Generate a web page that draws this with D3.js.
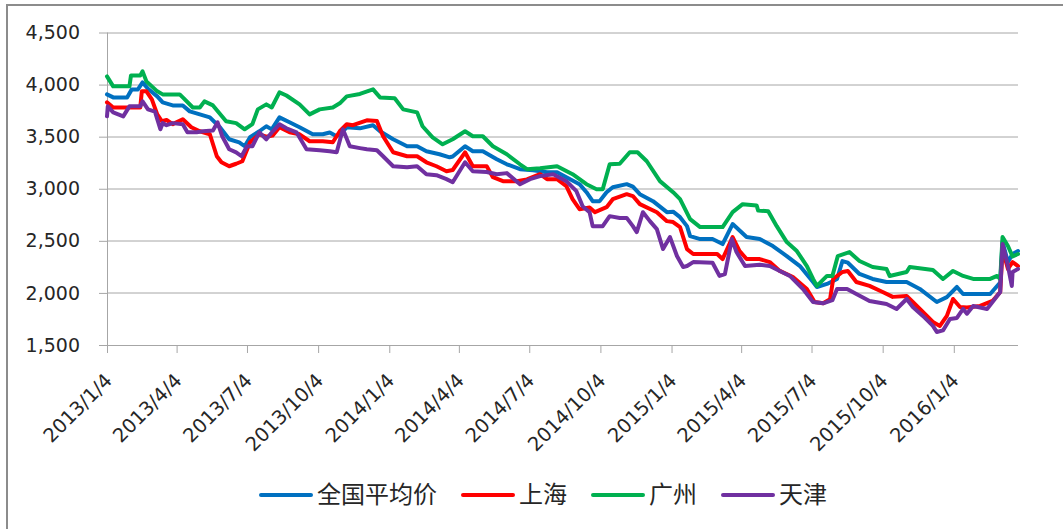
<!DOCTYPE html>
<html>
<head>
<meta charset="utf-8">
<script src="https://cdn.jsdelivr.net/npm/d3@7"></script>
<style>
  body { margin: 0; background: #fff; }
  svg { display: block; }
</style>
</head>
<body>
<script>
// legend names and colours, drawn in this order (last one on top)
var seriesNames = ["全国平均价", "上海", "广州", "天津"];
var seriesColors = ["#0070C0", "#FF0000", "#00B050", "#7030A0"];

// x axis tick labels (quarterly)
var xTickLabels = ["2013/1/4", "2013/4/4", "2013/7/4", "2013/10/4", "2014/1/4", "2014/4/4",
  "2014/7/4", "2014/10/4", "2015/1/4", "2015/4/4", "2015/7/4", "2015/10/4", "2016/1/4"];
var yTicks = [1500, 2000, 2500, 3000, 3500, 4000, 4500];

// 全国平均价
var national = [
  ["2013-01-04", 3906], ["2013-01-12", 3877], ["2013-01-30", 3877], ["2013-02-05", 3954], ["2013-02-13", 3954],
  ["2013-02-19", 4021], ["2013-02-26", 3960], ["2013-03-10", 3887], ["2013-03-17", 3829], ["2013-03-30", 3800],
  ["2013-04-12", 3800], ["2013-04-21", 3743], ["2013-05-04", 3714], ["2013-05-17", 3685], ["2013-05-30", 3590],
  ["2013-06-11", 3475], ["2013-06-24", 3446], ["2013-07-01", 3408], ["2013-07-08", 3494], ["2013-07-20", 3552],
  ["2013-07-29", 3600], ["2013-08-05", 3570], ["2013-08-15", 3685], ["2013-08-28", 3638], ["2013-09-10", 3590],
  ["2013-09-27", 3523], ["2013-10-10", 3523], ["2013-10-19", 3540], ["2013-10-28", 3504], ["2013-11-05", 3552],
  ["2013-11-10", 3590], ["2013-11-27", 3580], ["2013-12-14", 3610], ["2013-12-23", 3552], ["2014-01-09", 3475],
  ["2014-01-27", 3408], ["2014-02-09", 3408], ["2014-02-21", 3360], ["2014-03-10", 3331], ["2014-03-23", 3302],
  ["2014-03-27", 3310], ["2014-04-12", 3408], ["2014-04-22", 3360], ["2014-05-05", 3360], ["2014-05-23", 3283],
  ["2014-06-05", 3235], ["2014-06-22", 3188], ["2014-07-09", 3178], ["2014-07-27", 3159], ["2014-08-09", 3159],
  ["2014-08-21", 3111], ["2014-09-07", 3044], ["2014-09-16", 2967], ["2014-09-24", 2881], ["2014-10-03", 2881],
  ["2014-10-12", 2967], ["2014-10-20", 3015], ["2014-11-07", 3044], ["2014-11-15", 3020], ["2014-11-24", 2948],
  ["2014-12-11", 2881], ["2014-12-29", 2775], ["2015-01-06", 2780], ["2015-01-15", 2727], ["2015-01-24", 2641],
  ["2015-01-28", 2545], ["2015-02-10", 2517], ["2015-02-26", 2517], ["2015-03-11", 2469], ["2015-03-24", 2661],
  ["2015-04-11", 2536], ["2015-04-28", 2517], ["2015-05-15", 2450], ["2015-06-02", 2354], ["2015-06-19", 2258],
  ["2015-07-06", 2105], ["2015-07-11", 2057], ["2015-07-24", 2086], ["2015-08-06", 2134], ["2015-08-13", 2306],
  ["2015-08-20", 2290], ["2015-09-04", 2182], ["2015-09-21", 2134], ["2015-10-09", 2105], ["2015-11-04", 2105],
  ["2015-11-21", 2038], ["2015-12-13", 1913], ["2015-12-26", 1960], ["2016-01-08", 2057], ["2016-01-16", 1990],
  ["2016-02-20", 1990], ["2016-02-29", 2067], ["2016-03-04", 2100], ["2016-03-07", 2488], ["2016-03-14", 2296],
  ["2016-03-20", 2374], ["2016-03-27", 2402]
];

// 上海
var shanghai = [
  ["2013-01-04", 3829], ["2013-01-12", 3780], ["2013-02-16", 3780], ["2013-02-18", 3935], ["2013-02-24", 3935],
  ["2013-03-03", 3858], ["2013-03-10", 3714], ["2013-03-16", 3648], ["2013-03-22", 3660], ["2013-03-30", 3620],
  ["2013-04-12", 3667], ["2013-04-23", 3590], ["2013-05-04", 3552], ["2013-05-17", 3523], ["2013-05-26", 3312],
  ["2013-06-01", 3254], ["2013-06-11", 3216], ["2013-06-20", 3240], ["2013-06-28", 3264], ["2013-07-08", 3446],
  ["2013-07-20", 3523], ["2013-07-29", 3500], ["2013-08-06", 3510], ["2013-08-15", 3590], ["2013-08-28", 3542],
  ["2013-09-10", 3523], ["2013-09-23", 3456], ["2013-10-10", 3456], ["2013-10-23", 3446], ["2013-11-01", 3552],
  ["2013-11-10", 3619], ["2013-11-18", 3610], ["2013-12-06", 3657], ["2013-12-19", 3650], ["2013-12-27", 3504],
  ["2014-01-09", 3350], ["2014-01-27", 3312], ["2014-02-09", 3312], ["2014-02-21", 3254], ["2014-03-06", 3216],
  ["2014-03-19", 3168], ["2014-03-27", 3180], ["2014-04-12", 3350], ["2014-04-22", 3216], ["2014-05-10", 3216],
  ["2014-05-18", 3111], ["2014-05-31", 3073], ["2014-06-18", 3073], ["2014-07-01", 3090], ["2014-07-18", 3140],
  ["2014-07-27", 3092], ["2014-08-09", 3092], ["2014-08-21", 3025], ["2014-08-29", 2900], ["2014-09-07", 2804],
  ["2014-09-20", 2820], ["2014-09-27", 2775], ["2014-10-12", 2823], ["2014-10-20", 2900], ["2014-11-07", 2948],
  ["2014-11-15", 2930], ["2014-11-24", 2852], ["2014-12-16", 2775], ["2014-12-29", 2689], ["2015-01-06", 2680],
  ["2015-01-15", 2632], ["2015-01-24", 2421], ["2015-02-01", 2374], ["2015-03-04", 2374], ["2015-03-11", 2325],
  ["2015-03-24", 2536], ["2015-04-02", 2402], ["2015-04-11", 2325], ["2015-04-28", 2325], ["2015-05-11", 2296],
  ["2015-05-24", 2211], ["2015-06-10", 2153], ["2015-06-28", 2038], ["2015-07-08", 1913], ["2015-07-19", 1900],
  ["2015-07-28", 1940], ["2015-08-01", 2134], ["2015-08-13", 2201], ["2015-08-20", 2211], ["2015-08-31", 2105],
  ["2015-09-17", 2067], ["2015-10-04", 2009], ["2015-10-17", 1962], ["2015-11-04", 1971], ["2015-11-12", 1913],
  ["2015-11-25", 1817], ["2015-12-08", 1721], ["2015-12-17", 1683], ["2015-12-26", 1779], ["2016-01-03", 1942],
  ["2016-01-12", 1865], ["2016-01-21", 1860], ["2016-02-07", 1875], ["2016-02-23", 1923], ["2016-03-04", 2009],
  ["2016-03-07", 2421], ["2016-03-14", 2230], ["2016-03-20", 2296], ["2016-03-27", 2258]
];

// 广州
var guangzhou = [
  ["2013-01-04", 4079], ["2013-01-12", 3983], ["2013-02-02", 3983], ["2013-02-04", 4088], ["2013-02-16", 4088],
  ["2013-02-19", 4127], ["2013-02-24", 4031], ["2013-03-10", 3935], ["2013-03-17", 3906], ["2013-04-08", 3906],
  ["2013-04-12", 3877], ["2013-04-25", 3780], ["2013-05-04", 3780], ["2013-05-10", 3839], ["2013-05-21", 3800],
  ["2013-06-07", 3648], ["2013-06-20", 3630], ["2013-07-01", 3571], ["2013-07-11", 3620], ["2013-07-18", 3762],
  ["2013-07-29", 3810], ["2013-08-05", 3780], ["2013-08-15", 3925], ["2013-08-24", 3895], ["2013-09-10", 3810],
  ["2013-09-23", 3714], ["2013-10-06", 3762], ["2013-10-23", 3780], ["2013-11-01", 3820], ["2013-11-10", 3887],
  ["2013-11-27", 3910], ["2013-12-14", 3954], ["2013-12-23", 3877], ["2014-01-11", 3868], ["2014-01-22", 3762],
  ["2014-02-09", 3733], ["2014-02-16", 3600], ["2014-03-01", 3494], ["2014-03-14", 3427], ["2014-03-27", 3475],
  ["2014-04-12", 3552], ["2014-04-22", 3504], ["2014-05-05", 3504], ["2014-05-18", 3408], ["2014-06-05", 3331],
  ["2014-06-22", 3235], ["2014-07-01", 3188], ["2014-07-18", 3197], ["2014-08-09", 3216], ["2014-08-29", 3140],
  ["2014-09-16", 3044], ["2014-09-29", 2996], ["2014-10-07", 2996], ["2014-10-16", 3235], ["2014-10-29", 3240],
  ["2014-11-11", 3350], ["2014-11-21", 3350], ["2014-12-03", 3264], ["2014-12-20", 3073], ["2015-01-06", 2967],
  ["2015-01-15", 2900], ["2015-01-28", 2708], ["2015-02-10", 2632], ["2015-03-11", 2632], ["2015-03-24", 2775],
  ["2015-04-06", 2852], ["2015-04-24", 2840], ["2015-04-26", 2790], ["2015-05-09", 2785], ["2015-05-20", 2641],
  ["2015-06-02", 2488], ["2015-06-15", 2402], ["2015-06-28", 2258], ["2015-07-06", 2134], ["2015-07-11", 2067],
  ["2015-07-24", 2163], ["2015-07-31", 2163], ["2015-08-07", 2354], ["2015-08-22", 2392], ["2015-09-04", 2306],
  ["2015-09-21", 2249], ["2015-10-09", 2230], ["2015-10-13", 2163], ["2015-11-04", 2201], ["2015-11-08", 2249],
  ["2015-12-08", 2220], ["2015-12-21", 2134], ["2016-01-03", 2211], ["2016-01-16", 2163], ["2016-01-29", 2134],
  ["2016-02-20", 2134], ["2016-02-29", 2163], ["2016-03-04", 2134], ["2016-03-07", 2536], ["2016-03-14", 2450],
  ["2016-03-20", 2350], ["2016-03-27", 2374]
];

// 天津
var tianjin = [
  ["2013-01-04", 3695], ["2013-01-05", 3791], ["2013-01-12", 3733], ["2013-01-25", 3695], ["2013-02-02", 3791],
  ["2013-02-16", 3791], ["2013-02-19", 3839], ["2013-02-26", 3762], ["2013-03-07", 3740], ["2013-03-14", 3571],
  ["2013-03-17", 3630], ["2013-03-22", 3610], ["2013-03-30", 3630], ["2013-04-12", 3620], ["2013-04-18", 3542],
  ["2013-04-30", 3542], ["2013-05-08", 3552], ["2013-05-21", 3560], ["2013-05-27", 3638], ["2013-06-02", 3504],
  ["2013-06-11", 3379], ["2013-06-20", 3350], ["2013-06-27", 3312], ["2013-07-04", 3408], ["2013-07-11", 3408],
  ["2013-07-20", 3542], ["2013-07-29", 3475], ["2013-08-05", 3540], ["2013-08-15", 3619], ["2013-08-24", 3580],
  ["2013-09-06", 3542], ["2013-09-19", 3379], ["2013-10-06", 3370], ["2013-10-19", 3360], ["2013-10-28", 3350],
  ["2013-11-05", 3571], ["2013-11-14", 3408], ["2013-11-27", 3390], ["2013-12-06", 3379], ["2013-12-19", 3370],
  ["2013-12-27", 3312], ["2014-01-09", 3216], ["2014-01-27", 3206], ["2014-02-09", 3216], ["2014-02-21", 3140],
  ["2014-03-06", 3130], ["2014-03-19", 3092], ["2014-03-27", 3063], ["2014-04-12", 3254], ["2014-04-22", 3168],
  ["2014-05-10", 3160], ["2014-05-23", 3140], ["2014-06-05", 3150], ["2014-06-22", 3044], ["2014-07-05", 3092],
  ["2014-07-18", 3121], ["2014-08-04", 3140], ["2014-08-21", 3073], ["2014-09-03", 2977], ["2014-09-11", 2833],
  ["2014-09-20", 2775], ["2014-09-24", 2641], ["2014-10-07", 2641], ["2014-10-16", 2737], ["2014-10-29", 2720],
  ["2014-11-07", 2720], ["2014-11-15", 2641], ["2014-11-20", 2584], ["2014-11-28", 2775], ["2014-12-07", 2689],
  ["2014-12-16", 2613], ["2014-12-24", 2421], ["2015-01-02", 2536], ["2015-01-11", 2354], ["2015-01-19", 2249],
  ["2015-01-24", 2258], ["2015-02-01", 2296], ["2015-02-26", 2290], ["2015-03-07", 2163], ["2015-03-14", 2180],
  ["2015-03-23", 2517], ["2015-03-29", 2392], ["2015-04-09", 2258], ["2015-04-28", 2270], ["2015-05-11", 2258],
  ["2015-05-24", 2211], ["2015-06-06", 2163], ["2015-06-23", 2038], ["2015-07-06", 1913], ["2015-07-19", 1900],
  ["2015-07-31", 1930], ["2015-08-06", 2038], ["2015-08-19", 2038], ["2015-08-31", 1990], ["2015-09-17", 1923],
  ["2015-10-09", 1894], ["2015-10-22", 1846], ["2015-11-04", 1942], ["2015-11-12", 1865], ["2015-11-25", 1779],
  ["2015-12-08", 1683], ["2015-12-13", 1625], ["2015-12-21", 1640], ["2015-12-30", 1750], ["2016-01-08", 1760],
  ["2016-01-16", 1846], ["2016-01-21", 1800], ["2016-01-29", 1875], ["2016-02-16", 1846], ["2016-02-23", 1913],
  ["2016-03-04", 2009], ["2016-03-07", 2469], ["2016-03-14", 2258], ["2016-03-19", 2067], ["2016-03-20", 2201],
  ["2016-03-27", 2230]
];

var seriesData = [national, shanghai, guangzhou, tianjin];
var xStart = "2013-01-04", xEnd = "2016-03-27";

// chart box
var W = 1063, H = 529;
var margin = { top: 32.5, right: 45, bottom: 184, left: 107 },
  width = W - margin.left - margin.right,
  height = H - margin.top - margin.bottom;

var parseDay = d3.timeParse("%Y-%m-%d");
var parseTick = d3.timeParse("%Y/%m/%d");
var latinFont = "DejaVu Sans, Verdana, sans-serif";
var cjkFont = "'Noto Sans CJK SC', sans-serif";
var textColor = "#262626";

var svg = d3.select("body").append("svg")
  .attr("width", W)
  .attr("height", H);

// outer frame
svg.append("rect")
  .attr("x", 7).attr("y", 5)
  .attr("width", W + 10).attr("height", H + 10)
  .attr("fill", "none")
  .attr("stroke", "#8c8c8c")
  .attr("stroke-width", 2);

var g = svg.append("g")
  .attr("transform", "translate(" + margin.left + "," + margin.top + ")");

var x = d3.scaleTime()
  .domain([parseDay(xStart), parseDay(xEnd)])
  .range([0, width]);
var y = d3.scaleLinear()
  .domain([1500, 4500])
  .range([height, 0]);

// horizontal gridlines
g.append("g")
  .selectAll("line")
  .data(yTicks.slice(1))
  .enter().append("line")
  .attr("x1", 0).attr("x2", width)
  .attr("y1", function(d) { return Math.round(y(d)) + 0.5; })
  .attr("y2", function(d) { return Math.round(y(d)) + 0.5; })
  .attr("stroke", "#a6a6a6")
  .attr("stroke-width", 1);

// y axis
var yAxis = g.append("g")
  .call(d3.axisLeft(y).tickValues(yTicks).tickSize(8).tickPadding(19)
    .tickFormat(d3.format(",")));
yAxis.select(".domain").attr("stroke", "#a6a6a6").attr("d", "M0.5," + height + "V0");
yAxis.selectAll(".tick line").attr("stroke", "#a6a6a6");
yAxis.selectAll("text")
  .attr("fill", textColor)
  .style("font-family", latinFont)
  .style("font-size", "19px");

// x axis
var xAxis = g.append("g")
  .attr("transform", "translate(0," + height + ")")
  .call(d3.axisBottom(x)
    .tickValues(xTickLabels.map(function(s) { return parseTick(s); }))
    .tickSize(8)
    .tickFormat(function(d, i) { return xTickLabels[i]; }));
xAxis.select(".domain").attr("stroke", "#a6a6a6").attr("d", "M0,0.5H" + width);
xAxis.selectAll(".tick line").attr("stroke", "#a6a6a6");
xAxis.selectAll("text")
  .attr("fill", textColor)
  .style("font-family", latinFont)
  .style("font-size", "19.5px")
  .attr("text-anchor", "end")
  .attr("y", 0).attr("dy", "0.35em")
  .attr("transform", "translate(1,32) rotate(-45)");

// series lines
var line = d3.line()
  .x(function(d) { return x(parseDay(d[0])); })
  .y(function(d) { return y(d[1]); });

g.selectAll(".series")
  .data(seriesData)
  .enter().append("path")
  .attr("class", "series")
  .attr("d", line)
  .attr("fill", "none")
  .attr("stroke", function(d, i) { return seriesColors[i]; })
  .attr("stroke-width", 4)
  .attr("stroke-linejoin", "round")
  .attr("stroke-linecap", "round");

// legend
var legend = svg.append("g").attr("transform", "translate(261,495)");
var lx = 0;
seriesNames.forEach(function(name, i) {
  var item = legend.append("g").attr("transform", "translate(" + lx + ",0)");
  item.append("line")
    .attr("x1", 0).attr("x2", 50)
    .attr("stroke", seriesColors[i])
    .attr("stroke-width", 4)
    .attr("stroke-linecap", "round");
  var t = item.append("text")
    .attr("x", 56)
    .attr("dy", "0.35em")
    .attr("fill", textColor)
    .style("font-family", cjkFont)
    .style("font-size", "24px")
    .text(name);
  lx += 56 + t.node().getComputedTextLength() + 26;
});
</script>
</body>
</html>
